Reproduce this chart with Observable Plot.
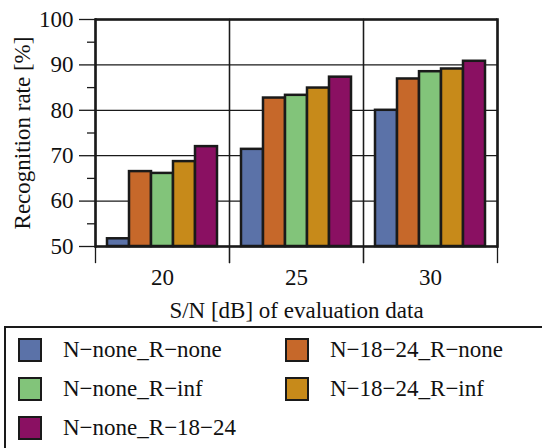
<!DOCTYPE html>
<html>
<head>
<meta charset="utf-8">
<script src="https://cdn.jsdelivr.net/npm/d3@7"></script>
<script src="https://cdn.jsdelivr.net/npm/@observablehq/plot@0.6"></script>
<style>
  html, body { margin: 0; padding: 0; background: #fff; overflow: hidden; width: 542px; height: 448px; }
  #chart svg { display: block; }
  #legend {
    position: absolute; left: 4px; top: 326px; width: 600px; height: 200px;
    border: 2px solid #1a1a1a; box-sizing: border-box;
    font-family: "Liberation Serif", serif; font-size: 23px; color: #111;
    padding: 2px 0 0 12px;
    display: grid; grid-template-columns: 267px 300px; grid-auto-rows: 39px;
  }
  .item { display: flex; align-items: center; }
  .sw { width: 24px; height: 24px; box-sizing: border-box; border: 2.5px solid #1a1a1a; margin-right: 21px; flex: none; }
</style>
</head>
<body>
<div id="chart"></div>
<div id="legend"></div>
<script>
const groups = ["20", "25", "30"];
const series = ["N−none_R−none", "N−18−24_R−none", "N−none_R−inf", "N−18−24_R−inf", "N−none_R−18−24"];
const colors = ["#5b72a8", "#c6682a", "#82c47a", "#c78a1a", "#8a1062"];
const valNoneNone = [51.7, 71.4, 80.0];
const val1824None = [66.5, 82.7, 86.9];
const valNoneInf = [66.1, 83.3, 88.5];
const val1824Inf = [68.7, 84.9, 89.1];
const valNone1824 = [72.0, 87.3, 90.8];
const majorTicks = [50, 60, 70, 80, 90, 100];
const minorTicks = [55, 65, 75, 85, 95];
const yDomain = [50, 100];

const seriesValues = [valNoneNone, val1824None, valNoneInf, val1824Inf, valNone1824];
const data = [];
groups.forEach((g, gi) => series.forEach((s, si) => data.push({group: g, series: s, value: seriesValues[si][gi]})));

const ink = "#1a1a1a";
const plot = Plot.plot({
  width: 542,
  height: 326,
  marginLeft: 95,
  marginRight: 45,
  marginTop: 19,
  marginBottom: 80,
  style: {fontFamily: "'Liberation Serif', serif", fontSize: "23px", color: "#111", background: "#fff"},
  fx: {domain: groups, padding: 0},
  x: {domain: series, paddingInner: 0, paddingOuter: 0.5, axis: null},
  y: {domain: yDomain},
  color: {domain: series, range: colors},
  marks: [
    Plot.gridY(majorTicks, {stroke: ink, strokeOpacity: 1, strokeWidth: 1.3}),
    Plot.barY(data, {fx: "group", x: "series", y1: yDomain[0], y2: "value", fill: "series", stroke: ink, strokeWidth: 2.5}),
    Plot.frame({anchor: "left", insetBottom: -16, stroke: ink, strokeWidth: 1.3}),
    Plot.frame({anchor: "right", insetBottom: -16, stroke: ink, strokeWidth: 1.3}),
    Plot.frame({anchor: "left", stroke: ink, strokeWidth: 2.6, fx: () => groups[0]}),
    Plot.frame({anchor: "right", stroke: ink, strokeWidth: 2.6, fx: () => groups[groups.length - 1]}),
    Plot.ruleY([yDomain[1]], {stroke: ink, strokeWidth: 2.6}),
    Plot.ruleY([yDomain[0]], {stroke: ink, strokeWidth: 2.6}),
    Plot.axisY({ticks: majorTicks, tickSize: 16, tickPadding: 6, fontSize: 23, stroke: ink, strokeWidth: 1.3,
      label: "Recognition rate [%]", labelAnchor: "center", labelOffset: 82, labelArrow: "none"}),
    Plot.axisY({ticks: minorTicks, tickSize: 8, tickFormat: () => "", stroke: ink, strokeWidth: 1.3, label: null}),
    Plot.axisFx({anchor: "bottom", tickSize: 0, tickPadding: 22, fontSize: 23,
      label: "S/N [dB] of evaluation data", labelAnchor: "center", labelOffset: 71})
  ]
});
document.getElementById("chart").appendChild(plot);

const legend = document.getElementById("legend");
series.forEach((s, i) => {
  const item = document.createElement("div");
  item.className = "item";
  const sw = document.createElement("span");
  sw.className = "sw";
  sw.style.background = colors[i];
  const t = document.createElement("span");
  t.textContent = s;
  item.appendChild(sw);
  item.appendChild(t);
  legend.appendChild(item);
});
</script>
</body>
</html>
